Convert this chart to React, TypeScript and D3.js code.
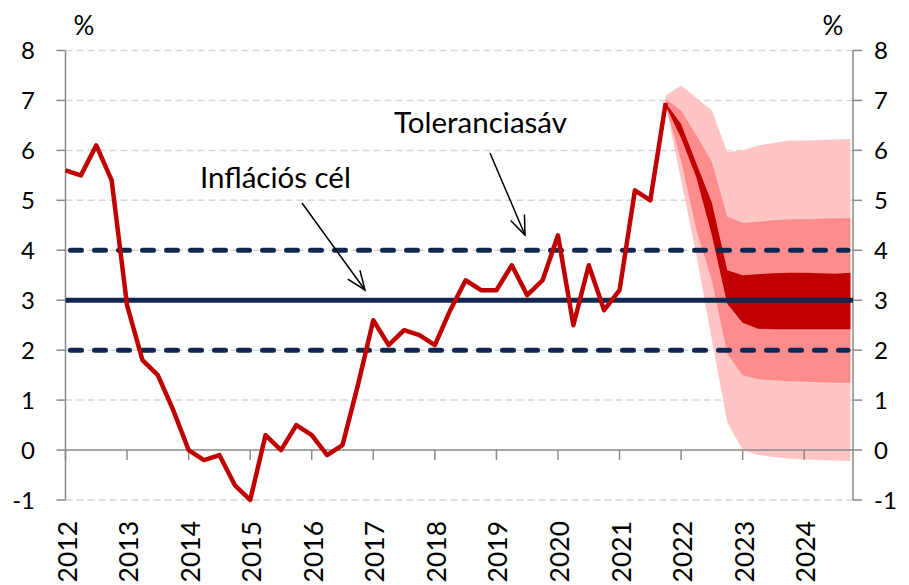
import React from 'react'
import * as d3 from 'd3'

// quarterly CPI, 2012 Q1 .. 2021 Q4
const actual = [5.6, 5.5, 6.1, 5.4, 2.9, 1.8, 1.5, 0.8, 0.0, -0.2, -0.1, -0.7, -1.0, 0.3, 0.0, 0.5,
  0.3, -0.1, 0.1, 1.3, 2.6, 2.1, 2.4, 2.3, 2.1, 2.8, 3.4, 3.2, 3.2, 3.7, 3.1, 3.4,
  4.3, 2.5, 3.7, 2.8, 3.2, 5.2, 5.0, 6.95]

// fan chart bands, 2021 Q4 .. 2024 Q4
const fanStart = 39
const outerHi = [7.1, 7.3, 7.05, 6.8, 5.97, 6.0, 6.1, 6.15, 6.2, 6.2, 6.21, 6.22, 6.23]
const outerLo = [6.9, 5.4, 3.9, 2.2, 0.55, 0.0, -0.1, -0.14, -0.17, -0.19, -0.2, -0.21, -0.22]
const midHi = [7.03, 6.8, 6.3, 5.77, 4.67, 4.55, 4.57, 4.6, 4.62, 4.62, 4.63, 4.64, 4.64]
const midLo = [6.9, 5.8, 4.4, 3.4, 1.93, 1.5, 1.42, 1.4, 1.38, 1.37, 1.36, 1.35, 1.35]
const innerHi = [6.95, 6.53, 5.73, 4.95, 3.6, 3.5, 3.52, 3.54, 3.55, 3.55, 3.54, 3.53, 3.55]
const innerLo = [6.9, 6.25, 5.45, 4.3, 2.93, 2.55, 2.43, 2.42, 2.42, 2.42, 2.42, 2.42, 2.42]

const years = [2012, 2013, 2014, 2015, 2016, 2017, 2018, 2019, 2020, 2021, 2022, 2023, 2024]
const yTicks = [-1, 0, 1, 2, 3, 4, 5, 6, 7, 8]
const target = 3
const tolerance = [2, 4]

const W = 909
const H = 585
const font = 'Lato, Carlito, Calibri, sans-serif'
const navy = '#10284f'
const axisGray = '#8a8a8a'

export default function App() {
  const x = d3.scaleLinear().domain([0, 51.17]).range([65.5, 853])
  const y = d3.scaleLinear().domain([-1, 8]).range([500, 50.5])
  const x0 = x.range()[0]
  const x1 = x.range()[1]

  const line = d3.line<number>().x((d, i) => x(i)).y(d => y(d))
  const band = (hi: number[], lo: number[]) =>
    d3.area<number>()
      .x((d, i) => x(fanStart + i))
      .y0((d, i) => y(lo[i]))
      .y1(d => y(d))(hi) || ''

  return (
    <svg width={W} height={H} style={{ position: 'absolute', left: 0, top: 0, background: '#fff' }}>
      <defs>
        <marker id='arr' markerUnits='userSpaceOnUse' markerWidth={24} markerHeight={20}
          refX={20} refY={10} orient='auto' viewBox='0 0 24 20'>
          <path d='M1,2.5 L20,10 L1,17.5' fill='none' stroke='#000' strokeWidth={1.5} />
        </marker>
      </defs>

      {/* grid */}
      {yTicks.filter(t => t !== 0).map(t => (
        <line key={`g${t}`} x1={x0} x2={x1} y1={y(t)} y2={y(t)}
          stroke='#d6d6d6' strokeWidth={1.5} strokeDasharray='7,4' />
      ))}

      {/* fan */}
      <path d={band(outerHi, outerLo)} fill='#ffc5c5' />
      <path d={band(midHi, midLo)} fill='#ff8c8c' />
      <path d={band(innerHi, innerLo)} fill='#c00000' />

      {/* axes */}
      <line x1={x0} x2={x1} y1={y(0)} y2={y(0)} stroke={axisGray} strokeWidth={1.5} />
      {years.map((yr, i) => (
        <line key={`xt${yr}`} x1={x(i * 4)} x2={x(i * 4)} y1={y(0)} y2={y(0) + 10}
          stroke={axisGray} strokeWidth={1.5} />
      ))}
      <line x1={x0} x2={x0} y1={y(8)} y2={y(-1)} stroke={axisGray} strokeWidth={1.5} />
      <line x1={x1} x2={x1} y1={y(8)} y2={y(-1)} stroke={axisGray} strokeWidth={1.5} />
      {yTicks.map(t => (
        <g key={`yt${t}`}>
          <line x1={x0 - 9} x2={x0} y1={y(t)} y2={y(t)} stroke={axisGray} strokeWidth={1.5} />
          <line x1={x1} x2={x1 + 9} y1={y(t)} y2={y(t)} stroke={axisGray} strokeWidth={1.5} />
          <text x={35} y={y(t)} dy='0.36em' textAnchor='end' fontFamily={font} fontSize={24}>{t}</text>
          <text x={874} y={y(t)} dy='0.36em' textAnchor='start' fontFamily={font} fontSize={24}>{t}</text>
        </g>
      ))}
      {years.map((yr, i) => (
        <text key={`xl${yr}`} transform={`translate(${x(i * 4) + 1.5},521) rotate(-90)`}
          textAnchor='end' dy='0.36em' fontFamily={font} fontSize={26.5}>{yr}</text>
      ))}
      <text x={84} y={35} textAnchor='middle' fontFamily={font} fontSize={26}>%</text>
      <text x={833} y={35} textAnchor='middle' fontFamily={font} fontSize={26}>%</text>

      {/* target and tolerance band */}
      <line x1={x0} x2={x1} y1={y(target)} y2={y(target)} stroke={navy} strokeWidth={5} />
      {tolerance.map(t => (
        <line key={`tol${t}`} x1={x0 + 5} x2={848} y1={y(t)} y2={y(t)} stroke={navy}
          strokeWidth={5} strokeDasharray='11,13' strokeLinecap='round' />
      ))}

      {/* actual */}
      <path d={line(actual) || ''} fill='none' stroke='#c00000' strokeWidth={4.5} strokeLinejoin='round' />

      {/* annotations */}
      <text x={200} y={188} fontFamily={font} fontSize={29.5}>Inflációs cél</text>
      <line x1={302} y1={203} x2={365} y2={290} stroke='#000' strokeWidth={1.5} markerEnd='url(#arr)' />
      <text x={394} y={133} fontFamily={font} fontSize={29.5}>Toleranciasáv</text>
      <line x1={490} y1={153} x2={525} y2={235} stroke='#000' strokeWidth={1.5} markerEnd='url(#arr)' />
    </svg>
  )
}
